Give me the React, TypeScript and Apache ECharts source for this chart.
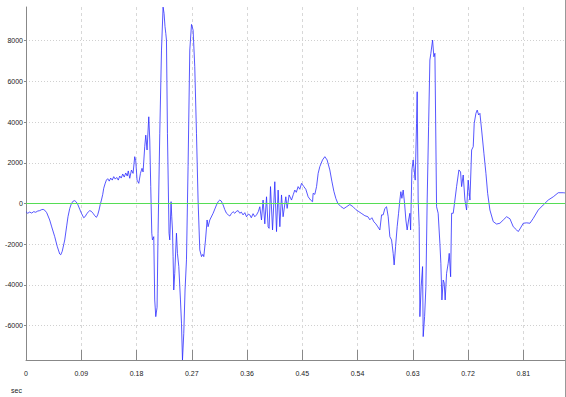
import React, { useEffect, useRef } from "react";
import * as echarts from "echarts";

// Sample times (seconds) and amplitudes of the recorded waveform
const seconds = [
  0, 0.0028, 0.006, 0.0093, 0.0125, 0.0158, 0.0191, 0.0223, 0.0256, 0.028, 0.0305, 0.0337, 0.0386, 0.0419,
  0.0468, 0.0508, 0.0549, 0.0566, 0.059, 0.0631, 0.0663, 0.0684, 0.0712, 0.074, 0.0769, 0.0794, 0.0818, 0.0847,
  0.0875, 0.0903, 0.094, 0.0965, 0.0994, 0.1038, 0.1063, 0.1092, 0.112, 0.1147, 0.1168, 0.119, 0.1209, 0.1229,
  0.125, 0.1266, 0.1291, 0.131, 0.1331, 0.1356, 0.138, 0.1405, 0.1429, 0.1454, 0.1478, 0.1503, 0.1527, 0.1551,
  0.1576, 0.16, 0.1625, 0.1649, 0.1666, 0.169, 0.1718, 0.1744, 0.1771, 0.1788, 0.1809, 0.1837, 0.1864, 0.189,
  0.1907, 0.1934, 0.1951, 0.1972, 0.2, 0.2016, 0.2032, 0.2049, 0.206, 0.2081, 0.2097, 0.2114, 0.2135, 0.2151,
  0.2179, 0.2207, 0.2233, 0.2249, 0.2264, 0.2277, 0.2288, 0.2304, 0.233, 0.2342, 0.2363, 0.2374, 0.2386, 0.2396,
  0.2407, 0.2423, 0.2451, 0.2467, 0.2489, 0.2516, 0.2533, 0.2549, 0.257, 0.2591, 0.2614, 0.264, 0.2668, 0.2696,
  0.2722, 0.2749, 0.2777, 0.2803, 0.2831, 0.2859, 0.288, 0.2896, 0.2924, 0.295, 0.2966, 0.2994, 0.3048, 0.3103,
  0.3132, 0.3157, 0.3181, 0.3211, 0.3238, 0.3266, 0.3295, 0.332, 0.3344, 0.3373, 0.3401, 0.3429, 0.3455, 0.3483,
  0.3507, 0.3536, 0.3564, 0.3592, 0.3621, 0.3646, 0.367, 0.3699, 0.3727, 0.3755, 0.3784, 0.3809, 0.3836, 0.3862,
  0.389, 0.3918, 0.3944, 0.396, 0.3983, 0.4016, 0.4053, 0.4081, 0.4107, 0.4135, 0.4162, 0.4188, 0.4232, 0.4254,
  0.4286, 0.4325, 0.4355, 0.4379, 0.4403, 0.4433, 0.446, 0.4488, 0.4526, 0.4558, 0.4596, 0.4635, 0.4668, 0.4677,
  0.4705, 0.4733, 0.4759, 0.4786, 0.483, 0.4868, 0.4905, 0.4949, 0.4982, 0.5015, 0.5047, 0.508, 0.5129, 0.5178,
  0.5226, 0.5275, 0.5324, 0.5373, 0.5422, 0.5471, 0.552, 0.5569, 0.5601, 0.5634, 0.5667, 0.5699, 0.5732, 0.5764,
  0.5792, 0.5818, 0.5846, 0.5873, 0.59, 0.5927, 0.5955, 0.5981, 0.5997, 0.602, 0.6046, 0.6069, 0.609, 0.6106,
  0.6123, 0.6144, 0.6167, 0.6188, 0.6209, 0.6232, 0.6253, 0.6265, 0.6286, 0.6307, 0.6323, 0.634, 0.6362, 0.6372,
  0.6388, 0.6405, 0.6416, 0.6437, 0.646, 0.647, 0.6493, 0.6514, 0.6535, 0.6558, 0.6579, 0.6595, 0.6623, 0.6644,
  0.6661, 0.6688, 0.6714, 0.6742, 0.6758, 0.6775, 0.6796, 0.6812, 0.6828, 0.6851, 0.6877, 0.6894, 0.6917, 0.6933,
  0.6959, 0.6987, 0.7014, 0.7052, 0.7079, 0.7096, 0.7122, 0.715, 0.7177, 0.7203, 0.7231, 0.7259, 0.7285, 0.7301,
  0.7329, 0.735, 0.7373, 0.7394, 0.7422, 0.7459, 0.7492, 0.752, 0.7557, 0.7611, 0.7666, 0.772, 0.7774, 0.7829,
  0.7883, 0.7937, 0.7992, 0.8018, 0.8046, 0.81, 0.8155, 0.8209, 0.8263, 0.8344, 0.8426, 0.8507, 0.8589, 0.867,
  0.8752, 0.8779,
];

const amplitude = [
  -400, -480, -420, -470, -400, -430, -370, -350, -300, -290, -330, -450, -810, -1150,
  -1630, -2100, -2480, -2520, -2350, -1790, -1100, -650, -250, 0, 120, 140, 80, -70,
  -280, -480, -700, -640, -480, -350, -380, -480, -600, -680, -560, -320, -50, 170,
  450, 750, 1000, 1150, 1220, 1100, 1250, 1150, 1320, 1200, 1280, 1150, 1350, 1250,
  1450, 1300, 1500, 1350, 1600, 1240, 1645, 1480, 2300, 2100, 1150, 990, 1480, 1730,
  1550, 2790, 3360, 2630, 4260, 3120, 830, -1460, -1790, -1630, -4740, -5560, -5100, -1460,
  3450, 7540, 9650, 9340, 8700, 8360, 8030, 3450, -1460, -1790, 90, -650, -1300, -2610,
  -4250, -3430, -1460, -2450, -3100, -4740, -5880, -7690, -6380, -4250, -2770, 1810, 7540, 8800,
  8520, 6720, 3450, 170, -2280, -2610, -2500, -2610, -1790, -810, -1140, -810, -480, -70,
  100, 170, 120, -70, -300, -480, -560, -615, -500, -400, -480, -380, -350, -480,
  -420, -560, -450, -650, -520, -560, -700, -500, -650, -560, -400, -160, -810, 170,
  -1000, 330, -1140, -1220, 830, -1300, 1070, -1380, 660, -1140, 420, -650, 330, -240,
  420, 170, 450, 660, 550, 830, 700, 990, 830, 700, 330, 170, 90, 500,
  450, 830, 1480, 1810, 2140, 2300, 2140, 1650, 1100, 600, 250, 0, -150, -250,
  -150, -50, -150, -300, -400, -500, -600, -650, -800, -700, -900, -1000, -1150, -1300,
  -560, -560, -240, -160, -650, -1630, -1790, -2450, -3020, -2120, -1140, -480, 170, 580,
  255, 660, 0, -810, -1300, -810, -480, -1300, 1650, 2140, 1650, 1150, 3940, 5490,
  170, -1140, -5560, -4090, -3100, -6540, -5560, -4090, 170, 3770, 7050, 7380, 8030, 7210,
  7380, -160, -480, -1950, -2940, -4740, -3760, -3900, -4740, -3430, -2940, -2450, -3600, -480,
  -480, 170, 830, 1650, 1550, 830, 1400, 170, -320, 1150, 170, 2630, 2790, 3940,
  4430, 4590, 4350, 4430, 3610, 2470, 1480, 500, -320, -890, -1010, -970, -810, -650,
  -750, -1140, -1300, -1380, -1250, -970, -950, -970, -730, -320, -70, 170, 330, 530,
  530, 520,
];

// Tick positions on both axes
const timeTicks = [0, 0.09, 0.18, 0.27, 0.36, 0.45, 0.54, 0.63, 0.72, 0.81];
const amplitudeTicks = [-6000, -4000, -2000, 0, 2000, 4000, 6000, 8000];

const X_MAX = 0.878;
const Y_MIN = -7690;
const Y_MAX = 9656;

const labelFont = {
  fontFamily: "Liberation Sans, Arial, sans-serif",
  fontSize: 7,
  color: "#1a1a1a",
};

export default function App() {
  const ref = useRef<HTMLDivElement>(null);

  useEffect(() => {
    document.body.style.margin = "0";
    if (!ref.current) return;
    const chart = echarts.init(ref.current, undefined, { renderer: "svg" });

    const points = seconds.map((t, i) => [t, amplitude[i]]);

    chart.setOption({
      animation: false,
      backgroundColor: "#fff",
      grid: { left: 26, right: 1, top: 7, bottom: 37, containLabel: false },
      xAxis: {
        type: "value",
        min: 0,
        max: X_MAX,
        axisLine: { show: true, onZero: false, lineStyle: { color: "#888", width: 1 } },
        axisTick: {
          show: true,
          inside: true,
          length: 10,
          customValues: timeTicks,
          lineStyle: { color: "#888" },
        },
        axisLabel: {
          ...labelFont,
          margin: 10,
          customValues: timeTicks,
          formatter: (v: number) => (v === 0 ? "0" : String(+v.toFixed(2))),
        },
        splitLine: {
          show: true,
          lineStyle: { color: "#d8d8d8", type: [3, 3], width: 1 },
        },
      },
      yAxis: {
        type: "value",
        min: Y_MIN,
        max: Y_MAX,
        axisLine: { show: true, lineStyle: { color: "#888", width: 1 } },
        axisTick: {
          show: true,
          inside: false,
          length: 2,
          customValues: amplitudeTicks,
          lineStyle: { color: "#888" },
        },
        axisLabel: {
          ...labelFont,
          margin: 3,
          customValues: amplitudeTicks,
          formatter: (v: number) => String(Math.round(v)),
        },
        splitLine: {
          show: true,
          lineStyle: { color: "#d0d0d0", type: [1, 2], width: 1 },
        },
      },
      series: [
        {
          name: "signal",
          type: "line",
          data: points,
          showSymbol: false,
          clip: true,
          z: 2,
          lineStyle: { color: "rgba(45,45,255,0.8)", width: 1 },
        },
      ],
      graphic: [
        {
          type: "line",
          shape: { x1: 565.5, y1: 0, x2: 565.5, y2: 397 },
          style: { stroke: "#999", lineWidth: 1 },
          silent: true,
        },
        {
          type: "text",
          left: 11,
          top: 387,
          style: {
            text: "sec",
            fontFamily: "Liberation Sans, Arial, sans-serif",
            fontSize: 7,
            fill: "#1a1a1a",
          },
        },
      ],
    });

    // Zero baseline, placed through the grid's own coordinate conversion
    const [x0, y0] = chart.convertToPixel({ gridIndex: 0 }, [0, 0]) as number[];
    const [x1] = chart.convertToPixel({ gridIndex: 0 }, [X_MAX, 0]) as number[];
    const yLine = Math.floor(y0) + 0.5;
    chart.setOption({
      graphic: [
        {
          type: "line",
          shape: { x1: 565.5, y1: 0, x2: 565.5, y2: 397 },
          style: { stroke: "#999", lineWidth: 1 },
          silent: true,
        },
        {
          type: "text",
          left: 11,
          top: 387,
          style: {
            text: "sec",
            fontFamily: "Liberation Sans, Arial, sans-serif",
            fontSize: 7,
            fill: "#1a1a1a",
          },
        },
        {
          type: "line",
          shape: { x1: x0, y1: yLine, x2: x1, y2: yLine },
          style: { stroke: "#55dd55", lineWidth: 1 },
          z: 100,
          silent: true,
        },
      ],
    });

    return () => chart.dispose();
  }, []);

  return <div ref={ref} style={{ width: 566, height: 397 }} />;
}
